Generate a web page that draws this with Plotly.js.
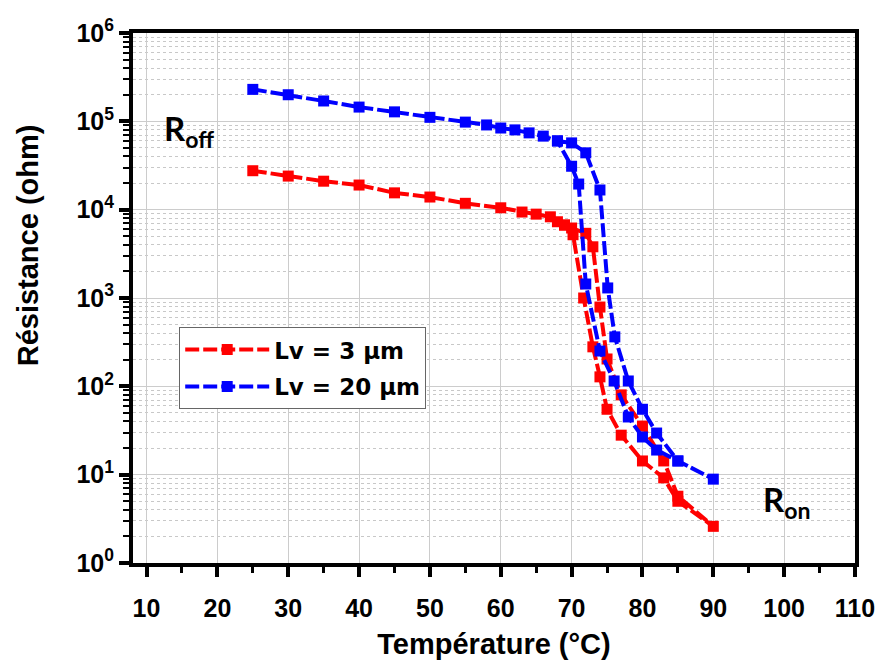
<!DOCTYPE html>
<html>
<head>
<meta charset="utf-8">
<script src="https://cdn.plot.ly/plotly-3.0.1.min.js"></script>
<style>html,body{margin:0;padding:0;background:#fff;}#chart{width:878px;height:660px;}</style>
</head>
<body>
<div id="chart"></div>
<script>
// Lv = 3 µm : heating branch then cooling branch (hysteresis loop)
var tempLv3 = [25, 30, 35, 40, 45, 50, 55, 60, 63, 65, 67, 68, 69, 70, 72, 73, 74, 75, 77, 80, 83, 85, 90,
               85, 83, 80, 77, 75, 74, 73, 71.7, 70.2, 69];
var resLv3  = [2.76e4, 2.4e4, 2.1e4, 1.9e4, 1.55e4, 1.39e4, 1.18e4, 1.05e4, 9.4e3, 8.9e3, 8.3e3, 7.3e3, 6.7e3, 6.2e3, 5.4e3, 3.8e3, 790, 204, 80, 35.5, 14.3, 5.7, 2.6,
               5.0, 9.2, 14.3, 28, 55, 128, 280, 1.0e3, 5.2e3, 6.7e3];

// Lv = 20 µm
var tempLv20 = [25, 30, 35, 40, 45, 50, 55, 58, 60, 62, 64, 66, 68, 70, 72, 74, 75.1, 76.1, 78, 80, 82, 85, 90,
                85, 82, 80, 78, 76, 74, 72, 71, 70, 68];
var resLv20  = [2.3e5, 2.0e5, 1.7e5, 1.45e5, 1.28e5, 1.11e5, 9.8e4, 9.1e4, 8.4e4, 8.0e4, 7.4e4, 6.8e4, 6.0e4, 5.7e4, 4.4e4, 1.67e4, 1.3e3, 363, 115, 55, 29.6, 14.3, 8.9,
                14.3, 19, 26.7, 45, 115, 251, 1.44e3, 1.95e4, 3.1e4, 6.0e4];

var seriesNames = ['Lv = 3 µm', 'Lv = 20 µm'];
var xTickVals = [10, 20, 30, 40, 50, 60, 70, 80, 90, 100, 110];
var yTickVals = [1, 10, 100, 1000, 1e4, 1e5, 1e6];
var yTickText = ['10<sup>0</sup>', '10<sup>1</sup>', '10<sup>2</sup>', '10<sup>3</sup>', '10<sup>4</sup>', '10<sup>5</sup>', '10<sup>6</sup>'];

var tickFont = {family: '"Liberation Sans Narrow", "Liberation Sans", Arial, sans-serif', size: 25, color: '#000', weight: 'bold'};
var titleFont = {family: '"Liberation Sans", Arial, sans-serif', size: 29, color: '#000', weight: 'bold'};
var labelFont = {family: 'Lato, "Open Sans", sans-serif', size: 33, color: '#000', weight: 'bold'};

var traces = [
  {x: tempLv3, y: resLv3, name: '<b>' + seriesNames[0] + '</b>', legendgroup: 'a', type: 'scatter', mode: 'lines+markers',
   line: {color: '#ff0000', width: 4, dash: '14px,4px'}, marker: {symbol: 'square', size: 11, color: '#ff0000'}},
  {x: tempLv20, y: resLv20, name: '<b>' + seriesNames[1] + '</b>', legendgroup: 'b', type: 'scatter', mode: 'lines+markers',
   line: {color: '#0000ff', width: 4, dash: '14px,4px'}, marker: {symbol: 'square', size: 11, color: '#0000ff'}}
];

var layout = {
  width: 878, height: 660,
  margin: {l: 133, r: 23, t: 33, b: 97},
  paper_bgcolor: '#fff', plot_bgcolor: '#fff',
  showlegend: true,
  legend: {x: 0.064, y: 0.445, xanchor: 'left', yanchor: 'top', bgcolor: '#fff', bordercolor: '#666', borderwidth: 1,
           font: {family: '"DejaVu Sans", Verdana, sans-serif', size: 23, color: '#000'}, itemwidth: 84, tracegroupgap: 4},
  xaxis: {range: [8.09, 110], tickvals: xTickVals, ticktext: xTickVals.map(String), tickfont: tickFont,
          showline: true, linecolor: '#000', linewidth: 4, mirror: true,
          ticks: 'outside', ticklen: 10, tickwidth: 4, tickcolor: '#000', ticklabelstandoff: 10,
          minor: {dtick: 5, ticks: 'outside', ticklen: 6, tickwidth: 3, tickcolor: '#000', showgrid: false},
          showgrid: true, gridcolor: '#cccccc', gridwidth: 1, zeroline: false, automargin: false,
          title: {text: 'Température (°C)', font: titleFont, standoff: 28}},
  yaxis: {type: 'log', range: [0, 6], tickvals: yTickVals, ticktext: yTickText, tickfont: tickFont,
          showline: true, linecolor: '#000', linewidth: 4, mirror: true,
          ticks: 'outside', ticklen: 10, tickwidth: 4, tickcolor: '#000',
          minor: {dtick: 'D1', ticks: 'outside', ticklen: 6, tickwidth: 2, tickcolor: '#000', showgrid: true, gridcolor: '#c8c8c8', griddash: '3px,3px', gridwidth: 1},
          showgrid: true, gridcolor: '#cccccc', gridwidth: 1, zeroline: false, automargin: false},
  shapes: [
    {type: 'rect', xref: 'paper', yref: 'paper', x0: 0.01, x1: 0.148, y0: 0.760, y1: 0.887, fillcolor: '#fff', line: {width: 0}, layer: 'between'},
    {type: 'rect', xref: 'paper', yref: 'paper', x0: 0.855, x1: 0.975, y0: 0.066, y1: 0.170, fillcolor: '#fff', line: {width: 0}, layer: 'between'}
  ],
  annotations: [
    {xref: 'paper', yref: 'paper', x: -0.145, y: 0.60, text: 'Résistance (ohm)', textangle: -90, showarrow: false,
     xanchor: 'center', yanchor: 'middle', font: titleFont},
    {xref: 'paper', yref: 'paper', x: 0.040, y: 0.862, text: 'R<sub>off</sub>', showarrow: false, font: labelFont},
    {xref: 'paper', yref: 'paper', x: 0.942, y: 0.070, text: 'R<sub>on</sub>', showarrow: false, font: labelFont}
  ]
};

Plotly.newPlot('chart', traces, layout, {displayModeBar: false, staticPlot: true});
</script>
</body>
</html>
